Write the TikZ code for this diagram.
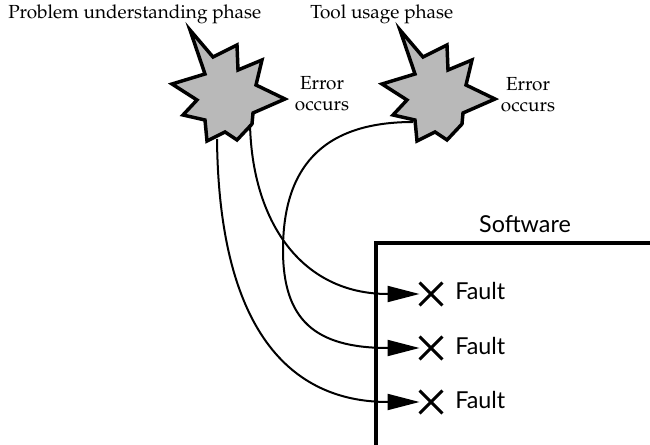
\documentclass[tikz,border=0pt]{standalone}
\usepackage[T1]{fontenc}
\usepackage{mathpazo}
\usepackage{fontspec}
\newfontfamily\faultfont{Lato}
\newcommand\palfont{\fontencoding{T1}\fontfamily{ppl}\selectfont}
\usetikzlibrary{arrows.meta,shapes.misc}
\tikzset{
  starshape/.style={draw=black,line width=2.6pt,fill=gray!55,line join=miter},
  label/.style={inner sep=0pt,font=\palfont\fontsize{14.2}{15.8}\selectfont},
  sanslabel/.style={inner sep=0pt,font=\faultfont\fontsize{17.5}{19}\selectfont},
  conn/.style={line width=1.5pt,-{Triangle[length=24pt,width=12pt]}},
  xmark/.style={cross out,draw=black,line width=2.2pt,minimum size=15pt,inner sep=0pt},
  boxline/.style={line width=2.8pt}
}
\begin{document}
\begin{tikzpicture}[x=0.75pt,y=-0.75pt]
\useasboundingbox (0,0) rectangle (650,445);
% star 1
\draw[starshape] (190,30) -- (213,57) -- (237,45) -- (238,70) -- (262,60) -- (256,85)
  -- (285,99) -- (253,113) -- (252,124) -- (237,140) -- (225,132) -- (207,141)
  -- (205,120) -- (183,115) -- (197,100) -- (172,84) -- (205,74) -- cycle;
% star 2
\begin{scope}[shift={(210,0)}]
\draw[starshape] (190,30) -- (213,57) -- (237,45) -- (238,70) -- (262,60) -- (256,85)
  -- (285,99) -- (253,113) -- (252,124) -- (237,140) -- (225,132) -- (207,141)
  -- (205,120) -- (183,115) -- (197,100) -- (172,84) -- (205,74) -- cycle;
\end{scope}
\coordinate (s1a) at (217,139);
\coordinate (s1b) at (250,124);
\coordinate (s2a) at (413,122);
% texts
\node[label,anchor=base west] (t1) at (8,19) {Problem understanding phase};
\node[label,anchor=base west] (t2) at (310,19) {Tool usage phase};
\node[label,align=center] (e1) at (322,94) {Error\\occurs};
\node[label,align=center] (e2) at (528,95) {Error\\occurs};
% software box
\draw[boxline] (376,445) -- (376,243) -- (650,243);
\node[sanslabel,anchor=base] (sw) at (525,233) {Software};
% faults
\node[xmark] (x1) at (431,294) {};
\node[xmark] (x2) at (431,348) {};
\node[xmark] (x3) at (431,402) {};
\node[sanslabel,anchor=base west] (f1) at (455,300) {Fault};
\node[sanslabel,anchor=base west] (f2) at (455,354) {Fault};
\node[sanslabel,anchor=base west] (f3) at (455,408) {Fault};
% connectors
\draw[conn] (s1a) .. controls (219,330) and (290,402) .. (x3.west);
\draw[conn] (s1b) .. controls (252,220) and (300,294) .. (x1.west);
\draw[conn] (s2a) .. controls (320,122) and (283,170) .. (283,250)
  .. controls (283,320) and (315,348) .. (x2.west);
\end{tikzpicture}
\end{document}
